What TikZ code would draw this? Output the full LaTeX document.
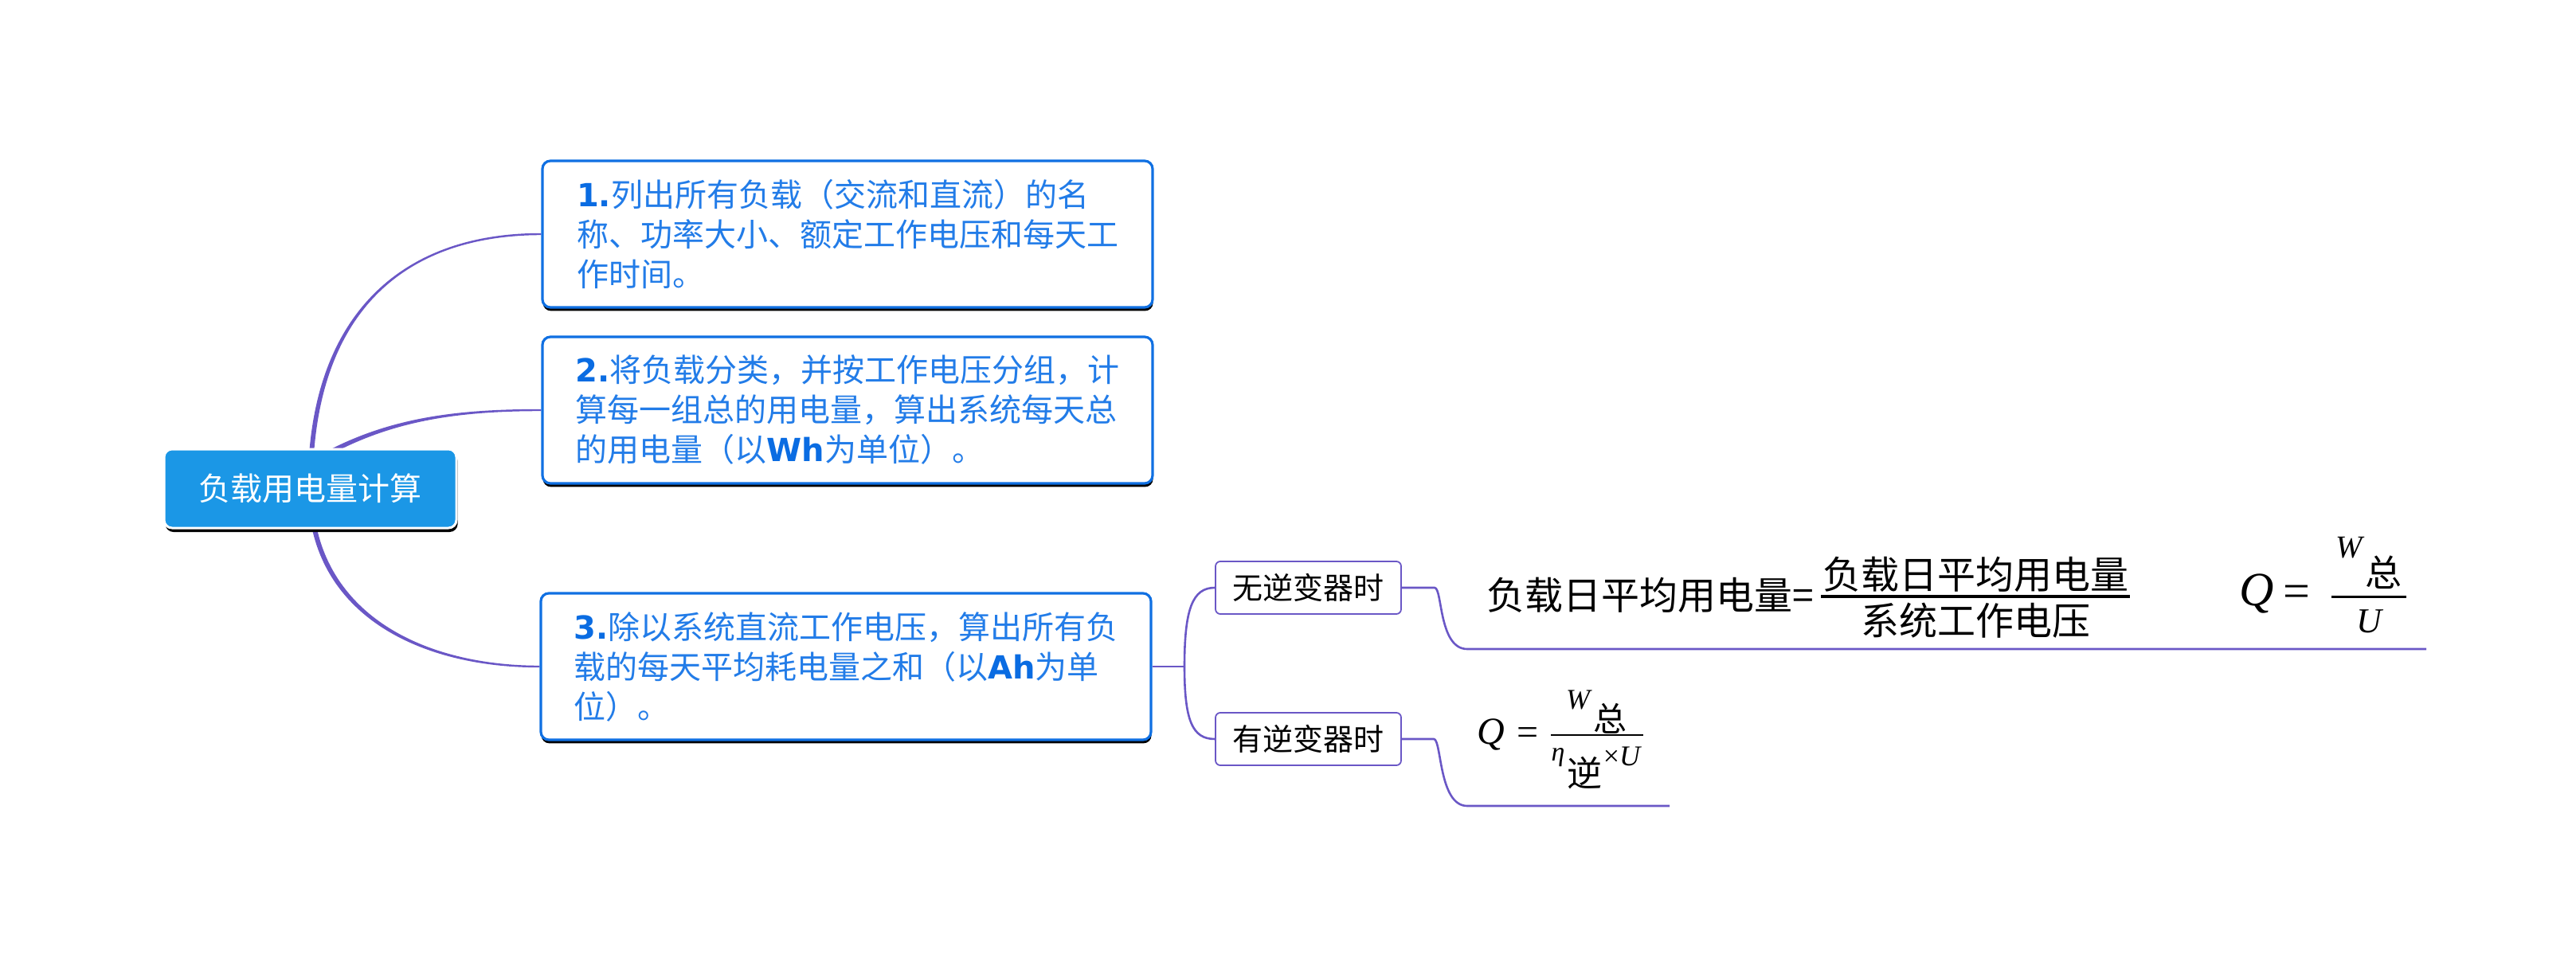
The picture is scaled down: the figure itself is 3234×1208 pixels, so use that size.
\documentclass[tikz,border=0pt]{standalone}
\usepackage{fontspec}
\setmainfont{Noto Sans CJK SC}
\newfontfamily\vfont{DejaVu Sans}
\newfontfamily\mfont{Liberation Serif}
\usetikzlibrary{shadows,backgrounds,calc}
\definecolor{rootblue}{RGB}{27,151,230}
\definecolor{bordblue}{RGB}{16,112,226}
\definecolor{txtblue}{RGB}{34,124,232}
\definecolor{numblue}{RGB}{10,108,226}
\definecolor{purp}{RGB}{106,87,198}
\newcommand{\bnum}[1]{{\vfont\bfseries\color{numblue}#1}}
\newcommand{\mi}[1]{{\mfont\itshape #1}}
\newcommand{\mr}[1]{{\mfont #1}}
\begin{document}
\begin{tikzpicture}[x=0.5pt,y=-0.5pt,
 rootbox/.style={fill=rootblue, draw=white, line width=1.5pt, rounded corners=5pt, minimum width=183.5pt, minimum height=49.5pt, inner sep=0pt, text=white, font=\fontsize{20pt}{24pt}\selectfont, drop shadow={shadow xshift=0.8pt, shadow yshift=-2.5pt, opacity=1, fill=black}},
 stepbox/.style={fill=white, draw=bordblue, line width=1.6pt, rounded corners=5pt, minimum width=383pt, minimum height=92pt, inner sep=0pt, text=txtblue, align=left, font=\fontsize{20pt}{25pt}\selectfont, drop shadow={shadow xshift=0.3pt, shadow yshift=-2.2pt, opacity=1, fill=black}},
 casebox/.style={fill=white, draw=purp, line width=0.9pt, rounded corners=3pt, minimum width=116.5pt, minimum height=33pt, inner sep=0pt, font=\fontsize{19pt}{22pt}\selectfont},
 link/.style={draw=purp, line width=1.3pt},
 taper/.style={fill=purp},
 ftext/.style={inner sep=0pt, font=\fontsize{24pt}{28pt}\selectfont},
 fsym/.style={inner sep=0pt},
]
\useasboundingbox (0,0) rectangle (3234,1208);

% nodes
\node[rootbox] (root) at (389.5,613.5) {负载用电量计算};
\node[stepbox] (b1) at (1064,294) {\bnum{1.}列出所有负载（交流和直流）的名\\称、功率大小、额定工作电压和每天工\\作时间。};
\node[stepbox] (b2) at (1064,515) {\bnum{2.}将负载分类，并按工作电压分组，计\\算每一组总的用电量，算出系统每天总\\的用电量（以\bnum{Wh}为单位）。};
\node[stepbox] (b3) at (1062,837) {\bnum{3.}除以系统直流工作电压，算出所有负\\载的每天平均耗电量之和（以\bnum{Ah}为单\\位）。};
\node[casebox] (wu) at (1642.5,738) {无逆变器时};
\node[casebox] (you) at (1642.5,928) {有逆变器时};

% formula 1
\node[ftext, anchor=west] (f1l) at (1866,747) {负载日平均用电量=};
\node[ftext] (f1n) at (2480,721) {负载日平均用电量};
\node[ftext] (f1d) at (2480,779) {系统工作电压};
\draw[line width=1.6pt] (2286,749) -- (2674,749);
\node[fsym, font=\fontsize{30pt}{34pt}\selectfont] (q1) at (2833,745) {\mi{Q}};
\node[fsym, font=\fontsize{30pt}{34pt}\selectfont] (eq1) at (2883,749) {\mr{=}};
\node[fsym, font=\fontsize{20pt}{24pt}\selectfont] (w1) at (2949,688) {\mi{W}};
\node[fsym, font=\fontsize{23pt}{26pt}\selectfont] (z1) at (2992,719) {总};
\node[fsym, font=\fontsize{22pt}{26pt}\selectfont] (u1) at (2974,780) {\mi{U}};
\draw[line width=1.5pt] (2927,749) -- (3021,749);

% formula 2
\node[fsym, font=\fontsize{24pt}{28pt}\selectfont] (q2) at (1872,922) {\mi{Q}};
\node[fsym, font=\fontsize{24pt}{28pt}\selectfont] (eq2) at (1918,925) {\mr{=}};
\node[fsym, font=\fontsize{18pt}{20pt}\selectfont] (w2) at (1981,879) {\mi{W}};
\node[fsym, font=\fontsize{21pt}{24pt}\selectfont] (z2) at (2021,902) {总};
\draw[line width=1.2pt] (1947,923) -- (2063,923);
\node[fsym, font=\fontsize{17pt}{19pt}\selectfont] (e2) at (1956,951) {\mi{η}};
\node[fsym, font=\fontsize{22pt}{26pt}\selectfont] (n2) at (1989,971) {逆};
\node[fsym, font=\fontsize{18pt}{20pt}\selectfont] (x2) at (2036,950) {\mr{×}\mi{U}};

\coordinate (jn) at (1487,837);
\coordinate (wend) at (3046,815);
\coordinate (yend) at (2096,1012);

\begin{pgfonlayer}{background}
% tapered root connectors
\fill[taper] ($(root.center)+(-3,0)$) .. controls (386,400) and (500,292.5) .. ($(b1.west)+(0,-1.2)$)
  -- ($(b1.west)+(0,1.2)$) .. controls (500,295.5) and (392,400) .. ($(root.center)+(3,0)$) -- cycle;
\fill[taper] ($(root.center)+(-12,-28)$) .. controls (470,527) and (560,513.8) .. ($(b2.west)+(0,-1.2)$)
  -- ($(b2.west)+(0,1.2)$) .. controls (560,516.2) and (472,532) .. ($(root.center)+(-8,-23)$) -- cycle;
\fill[taper] ($(root.center)+(-3,0)$) .. controls (386.5,767) and (520,838.2) .. ($(b3.west)+(0,1.2)$)
  -- ($(b3.west)+(0,-1.2)$) .. controls (522,835.8) and (392.5,763) .. ($(root.center)+(3,0)$) -- cycle;
% branch connectors
\draw[link] (b3.east) -- (jn);
\draw[link] (jn) .. controls (1487,765) and (1497,738) .. (wu.west);
\draw[link] (jn) .. controls (1487,905) and (1497,928) .. (you.west);
\draw[link] (wu.east) -- (1801,738) .. controls (1811,738) and (1806,815) .. (1842,815) -- (wend);
\draw[link] (you.east) -- (1800,928) .. controls (1810,928) and (1806,1012) .. (1842,1012) -- (yend);
\end{pgfonlayer}
\end{tikzpicture}
\end{document}
